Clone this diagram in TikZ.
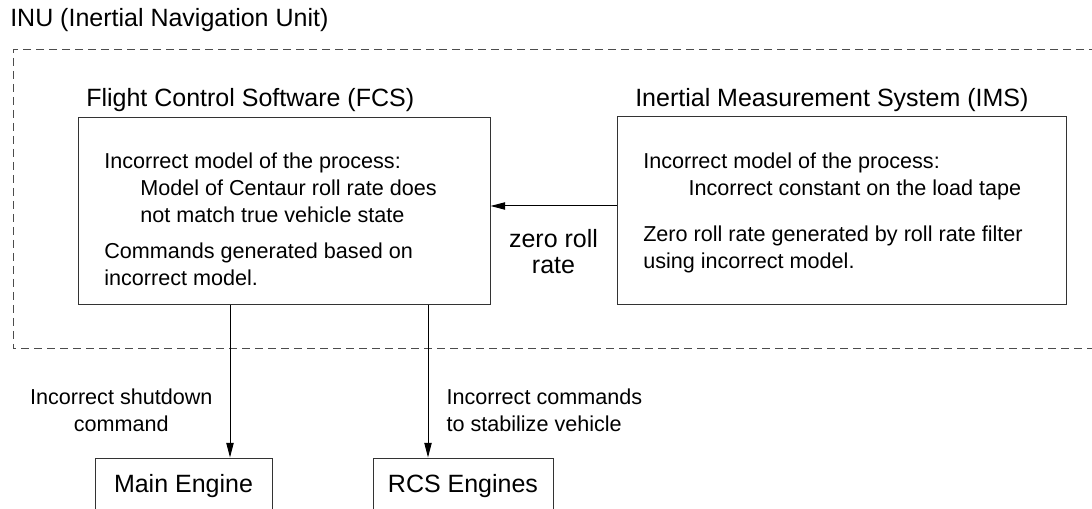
\documentclass[tikz,border=0pt]{standalone}
\usepackage{fontspec}
\setmainfont{Liberation Sans}
\usepackage{tikz}
\usetikzlibrary{calc, positioning, arrows.meta}

\newcommand{\ttlfont}{\fontsize{18.75}{19.5}\selectfont}
\newcommand{\bdyfont}{\fontsize{16.2}{20.25}\selectfont}

\begin{document}
\begin{tikzpicture}[x=0.75pt, y=-0.75pt,
    box/.style={draw=black!80, line width=0.75pt, inner sep=0pt},
    body/.style={font=\bdyfont, align=left, inner sep=0pt, anchor=north west},
    ttl/.style={font=\ttlfont, inner sep=0pt, anchor=base west},
    lbl/.style={font=\bdyfont, inner sep=0pt},
    arr/.style={-{Triangle[length=11pt, width=5.5pt]}, line width=0.75pt},
    inu/.style={draw=black!70, line width=0.75pt, dash pattern=on 6pt off 3.75pt}]

    \useasboundingbox (0,0) rectangle (1092,509);

    % 1. The INU boundary, open on the right
    \node[ttl] (inu) at (10,27) {INU (Inertial Navigation Unit)};
    \draw[inu] (1110,50) -| (13,349) -- (1110,349);

    % 2. FCS and IMS inside the INU
    \node[ttl] (fcstitle) at (86,107) {Flight Control Software (FCS)};
    \node[box, minimum width=309pt, minimum height=140.25pt] (fcs) at (284,211.5) {};
    \node[body] (fcsbody) at (104,153) {Incorrect model of the process:\\
        \hspace*{27pt}Model of Centaur roll rate does\\
        \hspace*{27pt}not match true vehicle state\\[6.75pt]
        Commands generated based on\\
        incorrect model.};

    \node[ttl] (imstitle) at (635,107) {Inertial Measurement System (IMS)};
    \node[box, minimum width=336.75pt, minimum height=141pt] (ims) at (841.5,211) {};
    \node[body] (imsbody) at (643,153) {Incorrect model of the process:\\
        \hspace*{34pt}Incorrect constant on the load tape\\[14pt]
        Zero roll rate generated by roll rate filter\\
        using incorrect model.};

    % 3. Feedback from IMS to FCS
    \draw[arr] ([yshift=3.75pt]ims.west) -- ([yshift=3.75pt]ims.west -| fcs.east)
        node[midway, below=14pt, font=\ttlfont, align=center] (zrr) {zero roll\\rate};

    % 4. Commands to the engines
    \node[box, font=\ttlfont, minimum width=132.75pt, minimum height=42pt] (main) at (183.5,486) {Main Engine};
    \node[box, font=\ttlfont, minimum width=135pt, minimum height=42pt] (rcs) at (463,486) {RCS Engines};

    \coordinate (mtap) at (230,305);
    \coordinate (rtap) at (428,305);

    \draw[arr] (mtap) -- (mtap |- main.north)
        node[lbl, pos=0.69, left=12.75pt, align=center] (sdcmd) {Incorrect shutdown\\command};
    \draw[arr] (rtap) -- (rtap |- rcs.north)
        node[lbl, pos=0.69, right=13.5pt, align=left] (stcmd) {Incorrect commands\\to stabilize vehicle};

\end{tikzpicture}
\end{document}
